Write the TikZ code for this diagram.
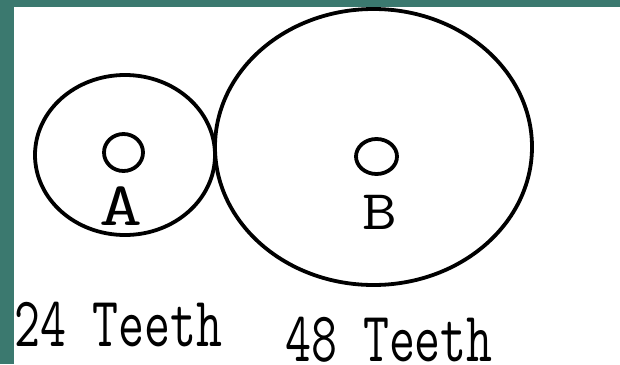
\documentclass[tikz,border=0pt]{standalone}
\usepackage{fontspec}
\usetikzlibrary{shapes.geometric}
\definecolor{band}{RGB}{59,121,111}
\tikzset{
  gear/.style={ellipse, draw=black, line width=3.8pt, inner sep=0pt},
  hub/.style={ellipse, draw=black, line width=3.8pt, inner sep=0pt},
  letter/.style={anchor=base, inner sep=0pt},
  teeth/.style={anchor=base, inner sep=0pt}
}
\newcommand{\teethtext}[1]{\scalebox{0.71}[1]{\fontsize{71}{71}\selectfont\ttfamily #1}}
\newcommand{\lettertext}[3]{\scalebox{#2}[1]{\fontsize{#1}{#1}\selectfont\ttfamily #3}}
\begin{document}
\begin{tikzpicture}[x=1pt,y=-1pt]
\useasboundingbox (0,0) rectangle (620,364);
\fill[white] (0,0) rectangle (620,364);
\node[gear, minimum width=180pt, minimum height=160pt] (gearA) at (125,155) {};
\node[gear, minimum width=317pt, minimum height=276pt] (gearB) at (373.5,147) {};
\node[hub, minimum width=39pt, minimum height=37pt] (hubA) at (123.5,152.5) {};
\node[hub, minimum width=41pt, minimum height=35pt] (hubB) at (376.5,156.5) {};
\node[letter] (labA) at (121.5,225) {\lettertext{62}{1.35}{A}};
\node[letter] (labB) at (379.5,229) {\lettertext{56}{1.2}{B}};
\node[teeth] (teethA) at (118.5,346) {\teethtext{24 Teeth}};
\node[teeth] (teethB) at (389,361) {\teethtext{48 Teeth}};
\fill[band] (0,0) rectangle (620,7);
\fill[band] (0,0) rectangle (14,364);
\end{tikzpicture}
\end{document}
